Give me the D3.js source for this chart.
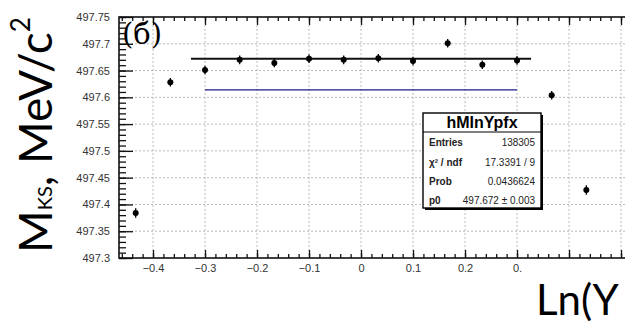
<!DOCTYPE html>
<meta charset="utf-8">
<script src="https://d3js.org/d3.v7.min.js"></script>
<style>
  body { margin: 0; background: #fff; }
  .tick text { font-family: "Liberation Sans", Arial, sans-serif; font-size: 11px; fill: #333; }
  .grid line { stroke: #a8a8a8; stroke-width: 0.8; stroke-dasharray: 2,2; }
</style>
<body>
<div id="vis"></div>
<script>
// bin centres of Ln(Y) and fitted mass per bin
var binCenters = [-0.4333, -0.3667, -0.3, -0.2333, -0.1667, -0.1, -0.0333, 0.0333, 0.1, 0.1667, 0.2333, 0.3, 0.3667, 0.4333];
var massValues = [497.384, 497.628, 497.651, 497.670, 497.664, 497.672, 497.670, 497.673, 497.668, 497.701, 497.661, 497.669, 497.604, 497.427];
var massErrors = [0.009, 0.008, 0.008, 0.008, 0.008, 0.008, 0.008, 0.008, 0.008, 0.008, 0.008, 0.008, 0.008, 0.009];

// pol0 fit and reference line
var fitRange = [-0.327, 0.327];
var fitValue = 497.672;
var refRange = [-0.3, 0.3];
var refValue = 497.614;

var xTicks = [-0.4, -0.3, -0.2, -0.1, 0, 0.1, 0.2, 0.3, 0.4, 0.5];
var xTickLabels = ["\u22120.4", "\u22120.3", "\u22120.2", "\u22120.1", "0", "0.1", "0.2", "0.", "", ""];
var yTicks = [497.3, 497.35, 497.4, 497.45, 497.5, 497.55, 497.6, 497.65, 497.7, 497.75];
var yTickLabels = ["497.3", "497.35", "497.4", "497.45", "497.5", "497.55", "497.6", "497.65", "497.7", "497.75"];

var statsTitle = "hMInYpfx";
var statsLabels = ["Entries", "\u03c7\u00b2 / ndf", "Prob", "p0"];
var statsValues = ["138305", "17.3391 / 9", "0.0436624", "497.672 \u00b1 0.003"];

var width = 625, height = 325;
var padL = 119, padT = 17, padB = 258, padR = 640;

var svg = d3.select("#vis").append("svg")
  .attr("width", width)
  .attr("height", height)
  .style("font-family", "'Liberation Sans', Arial, sans-serif");

var x = d3.scaleLinear().domain([-0.4654, 0.5365]).range([padL, padR]);
var y = d3.scaleLinear().domain([497.3, 497.75]).range([padB, padT]);

// grid
svg.append("g").attr("class", "grid")
  .selectAll("line").data(xTicks).enter().append("line")
    .attr("x1", function(d){ return x(d); }).attr("x2", function(d){ return x(d); })
    .attr("y1", padT).attr("y2", padB);
svg.append("g").attr("class", "grid")
  .selectAll("line").data(yTicks.slice(1, -1)).enter().append("line")
    .attr("x1", padL).attr("x2", padR)
    .attr("y1", function(d){ return y(d); }).attr("y2", function(d){ return y(d); });

// minor ticks
var xMinor = d3.range(-46, 54, 2).map(function(d){ return d / 100; });
var yMinor = d3.range(49730, 49776, 1).map(function(d){ return d / 100; });

svg.append("g").attr("transform", "translate(0," + padB + ")")
  .call(d3.axisBottom(x).tickValues(xMinor).tickSize(-4).tickFormat(""))
  .call(function(g){ g.select(".domain").remove(); });
svg.append("g").attr("transform", "translate(0," + padT + ")")
  .call(d3.axisTop(x).tickValues(xMinor).tickSize(-4).tickFormat(""))
  .call(function(g){ g.select(".domain").remove(); });
svg.append("g").attr("transform", "translate(" + padL + ",0)")
  .call(d3.axisLeft(y).tickValues(yMinor).tickSize(-7).tickFormat(""))
  .call(function(g){ g.select(".domain").remove(); });

// major ticks + labels
svg.append("g").attr("transform", "translate(0," + padB + ")")
  .call(d3.axisBottom(x).tickValues(xTicks).tickSize(-8).tickPadding(6)
    .tickFormat(function(d, i){ return xTickLabels[i]; }))
  .call(function(g){ g.select(".domain").remove(); });
svg.append("g").attr("transform", "translate(0," + padT + ")")
  .call(d3.axisTop(x).tickValues(xTicks).tickSize(-8).tickFormat(""))
  .call(function(g){ g.select(".domain").remove(); });
svg.append("g").attr("transform", "translate(" + padL + ",0)")
  .call(d3.axisLeft(y).tickValues(yTicks).tickSize(-14).tickPadding(9)
    .tickFormat(function(d, i){ return yTickLabels[i]; }))
  .call(function(g){ g.select(".domain").remove(); });

svg.selectAll(".tick line").attr("stroke", "#111").attr("stroke-width", 1.3);

// frame
svg.append("rect")
  .attr("x", padL).attr("y", padT)
  .attr("width", padR - padL).attr("height", padB - padT)
  .attr("fill", "none").attr("stroke", "#111").attr("stroke-width", 1.6);

// reference (blue) and fit (black) lines
svg.append("line")
  .attr("x1", x(refRange[0])).attr("x2", x(refRange[1]))
  .attr("y1", y(refValue)).attr("y2", y(refValue))
  .attr("stroke", "#1c1c8a").attr("stroke-width", 1.2);
svg.append("line")
  .attr("x1", x(fitRange[0])).attr("x2", x(fitRange[1]))
  .attr("y1", y(fitValue)).attr("y2", y(fitValue))
  .attr("stroke", "#111").attr("stroke-width", 1.8);

// points with error bars
var pts = binCenters.map(function(c, i){ return {x: c, m: massValues[i], e: massErrors[i]}; });
svg.append("g").selectAll("line").data(pts).enter().append("line")
  .attr("x1", function(d){ return x(d.x); }).attr("x2", function(d){ return x(d.x); })
  .attr("y1", function(d){ return y(d.m - d.e); }).attr("y2", function(d){ return y(d.m + d.e); })
  .attr("stroke", "#000").attr("stroke-width", 1.3);
svg.append("g").selectAll("circle").data(pts).enter().append("circle")
  .attr("cx", function(d){ return x(d.x); })
  .attr("cy", function(d){ return y(d.m); })
  .attr("r", 3).attr("fill", "#000");

// stats box
var bx = 423, by = 113, bw = 118, bh = 95, sep = 132;
svg.append("rect").attr("x", bx + 2).attr("y", by + 2).attr("width", bw).attr("height", bh).attr("fill", "#000");
svg.append("rect").attr("x", bx).attr("y", by).attr("width", bw).attr("height", bh)
  .attr("fill", "#fff").attr("stroke", "#000").attr("stroke-width", 1.4);
svg.append("line").attr("x1", bx).attr("x2", bx + bw).attr("y1", sep).attr("y2", sep)
  .attr("stroke", "#000").attr("stroke-width", 1.2);
svg.append("text").attr("x", bx + bw / 2).attr("y", 128)
  .attr("text-anchor", "middle").attr("font-size", 16).attr("font-weight", "bold")
  .text(statsTitle);
var rowY = [146, 166, 185, 204];
svg.selectAll(".slabel").data(statsLabels).enter().append("text")
  .attr("x", bx + 6).attr("y", function(d, i){ return rowY[i]; })
  .attr("font-size", 10).attr("font-weight", "bold").attr("fill", "#222")
  .text(function(d){ return d; });
svg.selectAll(".svalue").data(statsValues).enter().append("text")
  .attr("x", bx + bw - 6).attr("y", function(d, i){ return rowY[i]; })
  .attr("text-anchor", "end").attr("font-size", 10).attr("fill", "#222")
  .text(function(d){ return d; });

// panel label
svg.append("text").attr("x", 122).attr("y", 44)
  .attr("font-family", "'DejaVu Serif', 'Liberation Serif', serif").attr("font-size", 29)
  .text("(\u0431)");

// axis titles
var yt = svg.append("text")
  .attr("transform", "translate(52,253) rotate(-90)")
  .attr("font-family", "Lato, 'Open Sans', sans-serif").attr("font-size", 46)
  .attr("fill", "#000");
yt.append("tspan").text("M");
yt.append("tspan").attr("font-size", 20).text("KS");
yt.append("tspan").text(", MeV/c");
yt.append("tspan").attr("font-size", 26).attr("dy", -22).text("2");

svg.append("text").attr("x", 536).attr("y", 315)
  .attr("font-family", "Lato, 'Open Sans', sans-serif").attr("font-size", 42)
  .text("Ln(Y");
</script>
</body>
